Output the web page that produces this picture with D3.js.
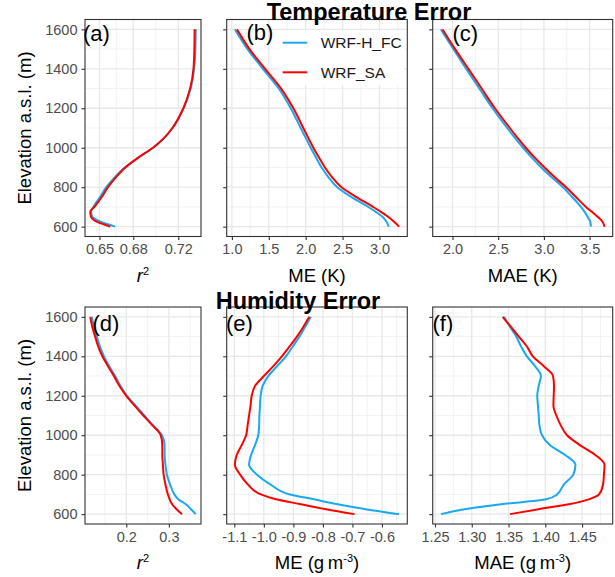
<!DOCTYPE html>
<html>
<head>
<meta charset="utf-8">
<script src="https://cdn.jsdelivr.net/npm/d3@7"></script>
<style>
  body { margin: 0; background: #fff; }
  text { font-family: "Liberation Sans", Arial, sans-serif; }
</style>
</head>
<body>
<svg id="chart" width="615" height="577"></svg>
<script>
// elevation levels (m a.s.l.) used for the temperature and humidity profiles
const elevT = [600, 625, 650, 675, 700, 750, 800, 850, 900, 950, 1000, 1050, 1100, 1200, 1300, 1400, 1500, 1600]
const elevH = [600, 625, 650, 675, 700, 750, 800, 850, 900, 950, 1000, 1050, 1100, 1150, 1200, 1250, 1300, 1350, 1400, 1450, 1500, 1550, 1600]

const seriesNames = ['WRF-H_FC', 'WRF_SA']
const seriesColors = ['#1aa8f0', '#ff0000']

// temperature error
const r2T_FC = [0.664, 0.651, 0.6435, 0.6425, 0.6445, 0.6505, 0.656, 0.6635, 0.6725, 0.6845, 0.6975, 0.7075, 0.7148, 0.7247, 0.731, 0.734, 0.7352, 0.7355]
const r2T_SA = [0.6596, 0.6475, 0.6425, 0.6418, 0.6455, 0.652, 0.6575, 0.6645, 0.673, 0.6845, 0.6975, 0.7075, 0.7148, 0.7245, 0.7305, 0.7335, 0.7343, 0.7345]
const meT_FC = [3.126, 3.095, 3.04, 2.95, 2.847, 2.622, 2.428, 2.31, 2.216, 2.14, 2.068, 2.0, 1.932, 1.797, 1.635, 1.419, 1.212, 1.041]
const meT_SA = [3.266, 3.198, 3.117, 3.02, 2.914, 2.689, 2.486, 2.36, 2.261, 2.18, 2.104, 2.035, 1.968, 1.833, 1.667, 1.45, 1.239, 1.068]
const maeT_FC = [3.514, 3.507, 3.478, 3.445, 3.406, 3.31, 3.207, 3.085, 2.971, 2.868, 2.772, 2.683, 2.598, 2.438, 2.293, 2.149, 2.011, 1.873]
const maeT_SA = [3.663, 3.641, 3.587, 3.525, 3.46, 3.35, 3.243, 3.12, 3.007, 2.9, 2.801, 2.712, 2.627, 2.464, 2.319, 2.174, 2.029, 1.891]

// humidity error
const r2H_FC = [0.3631, 0.352, 0.34, 0.322, 0.3131, 0.303, 0.2954, 0.292, 0.29, 0.29, 0.2838, 0.263, 0.2423, 0.222, 0.2015, 0.1865, 0.1738, 0.16, 0.1477, 0.138, 0.1308, 0.124, 0.119]
const r2H_SA = [0.3308, 0.318, 0.3077, 0.302, 0.2977, 0.292, 0.2877, 0.286, 0.2846, 0.2846, 0.2808, 0.2615, 0.24, 0.2195, 0.2, 0.184, 0.1708, 0.157, 0.1438, 0.134, 0.1269, 0.12, 0.1154]
const meH_FC = [-0.542, -0.655, -0.75, -0.83, -0.912, -0.977, -1.023, -1.05, -1.043, -1.03, -1.019, -1.016, -1.015, -1.013, -1.011, -1.004, -0.985, -0.955, -0.925, -0.902, -0.879, -0.86, -0.841]
const meH_SA = [-0.693, -0.789, -0.874, -0.959, -1.01, -1.054, -1.08, -1.098, -1.092, -1.075, -1.06, -1.055, -1.05, -1.045, -1.041, -1.03, -1.0, -0.968, -0.939, -0.913, -0.888, -0.866, -0.846]
const maeH_FC = [1.258, 1.29, 1.34, 1.401, 1.416, 1.425, 1.438, 1.441, 1.427, 1.406, 1.3955, 1.392, 1.391, 1.39, 1.389, 1.391, 1.394, 1.386, 1.375, 1.367, 1.3605, 1.352, 1.344]
const maeH_SA = [1.352, 1.391, 1.432, 1.459, 1.473, 1.4785, 1.4797, 1.4805, 1.468, 1.447, 1.4295, 1.421, 1.415, 1.411, 1.4114, 1.4118, 1.4105, 1.398, 1.383, 1.375, 1.364, 1.353, 1.342]

// ticks
const yTicks = [600, 800, 1000, 1200, 1400, 1600]
const yMinor = [700, 900, 1100, 1300, 1500]
const ticksA = [0.65, 0.68, 0.72]
const ticksB = [1.0, 1.5, 2.0, 2.5, 3.0]
const ticksC = [2.0, 2.5, 3.0, 3.5]
const ticksD = [0.2, 0.3]
const ticksE = [-1.1, -1.0, -0.9, -0.8, -0.7, -0.6]
const ticksF = [1.25, 1.3, 1.35, 1.4, 1.45]

const svg = d3.select('#chart')

const cols = [[85, 201], [226.7, 407.3], [432.7, 612.7]]
const rows = [[19.5, 236.5], [307, 524]]

const fmt1 = d => d.toFixed(1)
const fmt2 = d => d.toFixed(2)

const panels = [
  { label: '(a)', row: 0, col: 0, elev: elevT, fc: r2T_FC, sa: r2T_SA, ticks: ticksA, fmt: fmt2, title: 'r2' },
  { label: '(b)', row: 0, col: 1, elev: elevT, fc: meT_FC, sa: meT_SA, ticks: ticksB, fmt: fmt1, title: 'ME (K)' },
  { label: '(c)', row: 0, col: 2, elev: elevT, fc: maeT_FC, sa: maeT_SA, ticks: ticksC, fmt: fmt1, title: 'MAE (K)' },
  { label: '(d)', row: 1, col: 0, elev: elevH, fc: r2H_FC, sa: r2H_SA, ticks: ticksD, fmt: fmt1, title: 'r2' },
  { label: '(e)', row: 1, col: 1, elev: elevH, fc: meH_FC, sa: meH_SA, ticks: ticksE, fmt: fmt1, title: 'ME (g m-3)' },
  { label: '(f)', row: 1, col: 2, elev: elevH, fc: maeH_FC, sa: maeH_SA, ticks: ticksF, fmt: fmt2, title: 'MAE (g m-3)' }
]

// ggplot style 5% expansion
function expand (ext) {
  const pad = (ext[1] - ext[0]) * 0.05
  return [ext[0] - pad, ext[1] + pad]
}

// midpoints between majors, extended one step each side
function minorBreaks (ticks, domain) {
  const t = ticks.slice()
  if (t.length > 1) {
    t.unshift(t[0] - (t[1] - t[0]))
    t.push(t[t.length - 1] + (t[t.length - 1] - t[t.length - 2]))
  }
  const out = []
  for (let i = 0; i < t.length - 1; i++) out.push((t[i] + t[i + 1]) / 2)
  return out.filter(v => v > domain[0] && v < domain[1])
}

panels.forEach(p => {
  const [x0, x1] = cols[p.col]
  const [y0, y1] = rows[p.row]
  const x = d3.scaleLinear().domain(expand(d3.extent(p.fc.concat(p.sa)))).range([x0, x1])
  const y = d3.scaleLinear().domain(expand([600, 1600])).range([y1, y0])
  const g = svg.append('g')

  g.append('rect').attr('x', x0).attr('y', y0).attr('width', x1 - x0).attr('height', y1 - y0).attr('fill', '#fff')

  // minor grid
  g.selectAll('.vmin').data(minorBreaks(p.ticks, x.domain())).join('line')
    .attr('x1', d => x(d)).attr('x2', d => x(d)).attr('y1', y0).attr('y2', y1)
    .attr('stroke', '#ededed').attr('stroke-width', 0.7)
  g.selectAll('.hmin').data(yMinor).join('line')
    .attr('y1', d => y(d)).attr('y2', d => y(d)).attr('x1', x0).attr('x2', x1)
    .attr('stroke', '#ededed').attr('stroke-width', 0.7)
  // major grid
  g.selectAll('.vmaj').data(p.ticks).join('line')
    .attr('x1', d => x(d)).attr('x2', d => x(d)).attr('y1', y0).attr('y2', y1)
    .attr('stroke', '#e8e8e8').attr('stroke-width', 1.3)
  g.selectAll('.hmaj').data(yTicks).join('line')
    .attr('y1', d => y(d)).attr('y2', d => y(d)).attr('x1', x0).attr('x2', x1)
    .attr('stroke', '#e8e8e8').attr('stroke-width', 1.3)

  // legend box sits in panel (b), above the grid
  if (p.label === '(b)') {
    const leg = g.append('g')
    leg.append('rect').attr('x', 279).attr('y', 31).attr('width', 125).attr('height', 54).attr('fill', '#fff')
    seriesNames.forEach((name, i) => {
      const ly = 42.7 + i * 29.6
      leg.append('line').attr('x1', 282.7).attr('x2', 307.3).attr('y1', ly).attr('y2', ly)
        .attr('stroke', seriesColors[i]).attr('stroke-width', 2)
      leg.append('text').attr('x', 320.7).attr('y', ly + 5.5)
        .attr('font-size', 15.5).attr('fill', '#1a1a1a').text(name)
    })
  }

  const line = d3.line()
    .x(d => x(d[0]))
    .y(d => y(d[1]))
    .curve(d3.curveMonotoneY)

  ;[p.fc, p.sa].forEach((vals, i) => {
    g.append('path')
      .datum(vals.map((v, j) => [v, p.elev[j]]))
      .attr('d', line)
      .attr('fill', 'none')
      .attr('stroke', seriesColors[i])
      .attr('stroke-width', 2)
  })

  g.append('rect').attr('x', x0).attr('y', y0).attr('width', x1 - x0).attr('height', y1 - y0)
    .attr('fill', 'none').attr('stroke', '#333').attr('stroke-width', 1.1)

  // axes
  const ax = g.append('g').attr('transform', `translate(0,${y1})`)
    .call(d3.axisBottom(x).tickValues(p.ticks).tickFormat(p.fmt).tickSize(3.5).tickPadding(4))
  const ay = g.append('g').attr('transform', `translate(${x0},0)`)
    .call(d3.axisLeft(y).tickValues(yTicks).tickFormat(p.col === 0 ? d3.format('d') : '').tickSize(3.5).tickPadding(4))
  ;[ax, ay].forEach(a => {
    a.select('.domain').remove()
    a.selectAll('.tick line').attr('stroke', '#333').attr('stroke-width', 1.1)
    a.selectAll('.tick text').attr('fill', '#4d4d4d').attr('font-size', 14.5)
      .attr('font-family', '"Liberation Sans", Arial, sans-serif')
  })

  // x title
  const tt = g.append('text').attr('x', (x0 + x1) / 2).attr('y', y1 + 45)
    .attr('text-anchor', 'middle').attr('font-size', 18.5).attr('fill', '#000')
  if (p.title === 'r2') {
    tt.append('tspan').attr('font-style', 'italic').text('r')
    tt.append('tspan').attr('dy', -7).attr('font-size', 11).text('2')
  } else if (p.title.endsWith('-3)')) {
    tt.append('tspan').text(p.title.replace(' m-3)', ' ').replace('(g ', '(g\u2009'))
    tt.append('tspan').text('m')
    tt.append('tspan').attr('dy', -7).attr('font-size', 11).text('-3')
    tt.append('tspan').attr('dy', 7).text(')')
  } else {
    tt.text(p.title)
  }

  // y title on first column
  if (p.col === 0) {
    svg.append('text')
      .attr('transform', `translate(31,${(y0 + y1) / 2}) rotate(-90)`)
      .attr('text-anchor', 'middle').attr('font-size', 18.5).attr('fill', '#000')
      .text('Elevation a.s.l. (m)')
  }
})

// panel labels
const labelPos = { '(a)': [83, 41], '(b)': [246.5, 40], '(c)': [452.5, 41], '(d)': [92.5, 331], '(e)': [226, 331], '(f)': [432.5, 331] }
panels.forEach(p => {
  svg.append('text').attr('x', labelPos[p.label][0]).attr('y', labelPos[p.label][1])
    .attr('font-size', 22).attr('fill', '#000').text(p.label)
})

// row titles
svg.append('text').attr('x', 369).attr('y', 20).attr('text-anchor', 'middle')
  .attr('font-size', 23.5).attr('font-weight', 'bold').text('Temperature Error')
svg.append('text').attr('x', 298).attr('y', 309).attr('text-anchor', 'middle')
  .attr('font-size', 23.5).attr('font-weight', 'bold').text('Humidity Error')
</script>
</body>
</html>
